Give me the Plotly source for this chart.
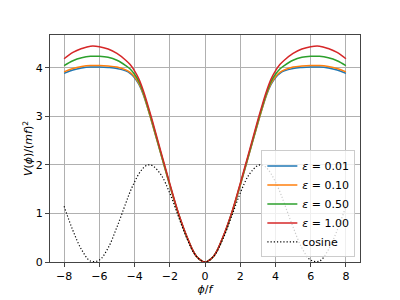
import plotly.graph_objects as go

# phi/f sample positions
x_pos = [0, 0.5, 1.0, 1.5, 2.0, 2.5, 3.0, 3.25, 3.5, 3.75, 4.0, 4.25, 4.5, 5.0, 5.5, 6.0, 6.5, 7.0, 7.5, 8.0]

# values (positive half; curves are mirror-symmetric)
eps_001 = [0, 0.125, 0.49, 0.98, 1.58, 2.22, 2.86, 3.17, 3.45, 3.66, 3.80, 3.89, 3.94, 3.99, 4.01, 4.02, 4.02, 4.00, 3.96, 3.89]
eps_010 = [0, 0.125, 0.49, 0.98, 1.58, 2.22, 2.86, 3.17, 3.46, 3.68, 3.82, 3.91, 3.96, 4.02, 4.04, 4.05, 4.05, 4.03, 3.99, 3.92]
eps_050 = [0, 0.125, 0.49, 0.99, 1.60, 2.24, 2.89, 3.20, 3.49, 3.72, 3.87, 3.98, 4.05, 4.16, 4.22, 4.24, 4.24, 4.21, 4.15, 4.05]
eps_100 = [0, 0.125, 0.50, 1.00, 1.62, 2.27, 2.93, 3.24, 3.53, 3.77, 3.94, 4.07, 4.16, 4.30, 4.39, 4.44, 4.45, 4.40, 4.32, 4.19]
cosine  = [0, 0.12, 0.46, 0.93, 1.42, 1.80, 1.99, 2.00, 1.94, 1.82, 1.65, 1.45, 1.21, 0.72, 0.29, 0.04, 0.02, 0.25, 0.65, 1.15]

label_html = ["<i>ε</i> = 0.01", "<i>ε</i> = 0.10", "<i>ε</i> = 0.50", "<i>ε</i> = 1.00"]
colors = ["#1f77b4", "#ff7f0e", "#2ca02c", "#d62728"]

x_ticks = [-8, -6, -4, -2, 0, 2, 4, 6, 8]
y_ticks = [0, 1, 2, 3, 4]


def mirror(xs, ys):
    xf = [-v for v in xs[:0:-1]] + list(xs)
    yf = list(ys[:0:-1]) + list(ys)
    return xf, yf


fig = go.Figure()
for ys, name, col in zip([eps_001, eps_010, eps_050, eps_100], label_html, colors):
    xf, yf = mirror(x_pos, ys)
    fig.add_trace(go.Scatter(x=xf, y=yf, mode="lines", name=name,
                             line=dict(color=col, width=1.5, shape="spline", smoothing=1.0)))

xf, yf = mirror(x_pos, cosine)
fig.add_trace(go.Scatter(x=xf, y=yf, mode="lines", name="cosine",
                         line=dict(color="black", width=1.2, dash="1.2px,2px", shape="spline", smoothing=1.0)))

axis_common = dict(showgrid=True, gridcolor="#b0b0b0", gridwidth=0.8, zeroline=False,
                   showline=True, linecolor="#444", linewidth=1, mirror=True,
                   ticks="outside", ticklen=4, tickcolor="#444", automargin=True,
                   tickfont=dict(family="DejaVu Sans", size=11, color="black"))

fig.update_layout(
    width=392, height=292,
    margin=dict(l=42, r=40, t=27, b=38, autoexpand=False),
    paper_bgcolor="white", plot_bgcolor="white",
    font=dict(family="DejaVu Sans", size=11, color="black"),
    xaxis=dict(range=[-8.8, 8.8], tickvals=x_ticks,
               title=dict(text="<i>ϕ</i>/<i>f</i>", font=dict(size=11), standoff=0),
               **axis_common),
    yaxis=dict(range=[0, 4.68], tickvals=y_ticks,
               title=dict(text="<i>V</i>(<i>ϕ</i>)/(<i>mf</i>)<sup>2</sup>", font=dict(size=11), standoff=0),
               **axis_common),
    legend=dict(x=0.985, y=0.02, xanchor="right", yanchor="bottom",
                bgcolor="rgba(255,255,255,0.8)", bordercolor="#cccccc", borderwidth=1,
                font=dict(family="DejaVu Sans", size=11), itemwidth=30,
                tracegroupgap=0),
    showlegend=True,
)

fig.write_html("out.html")
